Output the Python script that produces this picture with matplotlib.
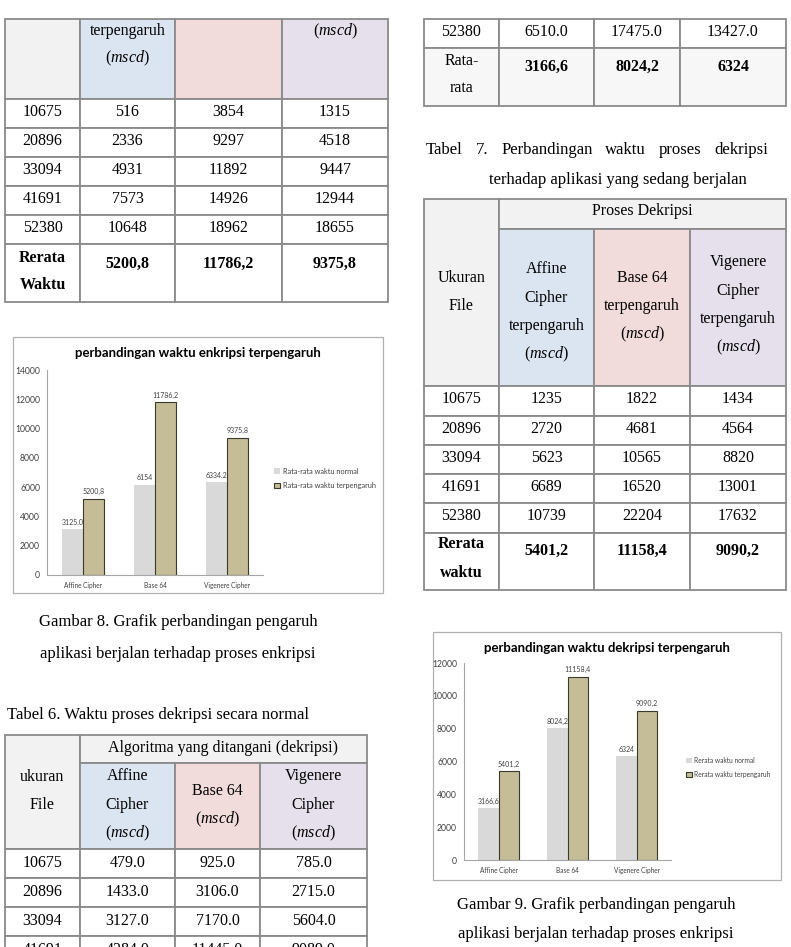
import matplotlib
matplotlib.use("Agg")
import matplotlib.pyplot as plt
from matplotlib.patches import Rectangle
import numpy as np

plt.rcParams['mathtext.fontset'] = 'custom'
plt.rcParams['mathtext.rm'] = 'Liberation Serif'
plt.rcParams['mathtext.it'] = 'Liberation Serif:italic'
plt.rcParams['mathtext.bf'] = 'Liberation Serif:bold'

# ---- data ----
file_sizes = ['10675', '20896', '33094', '41691', '52380']

# Tabel 5 (end): enkripsi terpengaruh
enc_affine_inf = ['516', '2336', '4931', '7573', '10648']
enc_base64_inf = ['3854', '9297', '11892', '14926', '18962']
enc_vig_inf = ['1315', '4518', '9447', '12944', '18655']
enc_mean_inf = ['5200,8', '11786,2', '9375,8']

# Tabel 6: dekripsi normal
dec_affine = ['479.0', '1433.0', '3127.0', '4284.0', '6510.0']
dec_base64 = ['925.0', '3106.0', '7170.0', '11445.0', '17475.0']
dec_vig = ['785.0', '2715.0', '5604.0', '9089.0', '13427.0']
dec_mean = ['3166,6', '8024,2', '6324']

# Tabel 7: dekripsi terpengaruh
dec_affine_inf = ['1235', '2720', '5623', '6689', '10739']
dec_base64_inf = ['1822', '4681', '10565', '16520', '22204']
dec_vig_inf = ['1434', '4564', '8820', '13001', '17632']
dec_mean_inf = ['5401,2', '11158,4', '9090,2']

# charts
algos = ['Affine Cipher', 'Base 64', 'Vigenere Cipher']
enc_normal = [3125.0, 6154.0, 6334.2]
enc_normal_lbl = ['3125.0', '6154', '6334.2']
enc_inf = [5200.8, 11786.2, 9375.8]
enc_inf_lbl = ['5200,8', '11786,2', '9375,8']
dec_normal = [3166.6, 8024.2, 6324.0]
dec_normal_lbl = ['3166,6', '8024,2', '6324']
dec_inf = [5401.2, 11158.4, 9090.2]
dec_inf_lbl = ['5401,2', '11158,4', '9090,2']

W, H = 791, 947
GRAY, BLUE, PINK, LAV = '#f2f2f2', '#dbe5f1', '#f2dcdb', '#e5e0ec'
BORDER = '#8a8a8a'
SERIF = 'Liberation Serif'
FS = 11.5

fig = plt.figure(figsize=(W / 100, H / 100), dpi=100)
base = fig.add_axes([0, 0, 1, 1])
base.set_xlim(0, W)
base.set_ylim(H, 0)
base.axis('off')


def cell(x0, y0, x1, y1, fc='white'):
    base.add_patch(Rectangle((x0, y0), x1 - x0, y1 - y0, fc=fc, ec=BORDER, lw=1.3, zorder=1))


def txt(x, y, s, bold=False, ha='center', size=FS):
    base.text(x, y, s, ha=ha, va='baseline', family=SERIF, size=size,
              weight='bold' if bold else 'normal', zorder=3)


def lines(x, baselines, strings):
    for b, s in zip(baselines, strings):
        txt(x, b, s)


def data_rows(cols, tops, rows, off=16.5):
    for i, row in enumerate(rows):
        for j, s in enumerate(row):
            x0, x1 = cols[j], cols[j + 1]
            cell(x0, tops[i], x1, tops[i + 1])
            txt((x0 + x1) / 2, tops[i] + off, s)


def mid(cols, j):
    return (cols[j] + cols[j + 1]) / 2


MSCD = r'($mscd$)'

# ---- Tabel 5 (end), top left ----
c = [5, 80, 175, 282, 388]
cell(c[0], 19, c[1], 99, GRAY)
cell(c[1], 19, c[2], 99, BLUE)
cell(c[2], 19, c[3], 99, PINK)
cell(c[3], 19, c[4], 99, LAV)
lines(mid(c, 1), [35, 62], ['terpengaruh', MSCD])
txt(mid(c, 3), 35, MSCD)
tops = [99, 128, 157, 186, 215, 244]
rows = list(zip(file_sizes, enc_affine_inf, enc_base64_inf, enc_vig_inf))
data_rows(c, tops, rows)
for j in range(4):
    cell(c[j], 244, c[j + 1], 302)
txt(mid(c, 0), 262, 'Rerata', bold=True)
txt(mid(c, 0), 289, 'Waktu', bold=True)
for j, s in enumerate(enc_mean_inf):
    txt(mid(c, j + 1), 268, s, bold=True)

# ---- Tabel 6 (end), top right ----
c = [424, 499, 594, 680, 786]
data_rows(c, [19, 48], [[file_sizes[4], dec_affine[4], dec_base64[4], dec_vig[4]]])
for j in range(4):
    cell(c[j], 48, c[j + 1], 106, '#f7f7f7')
txt(mid(c, 0), 65, 'Rata-')
txt(mid(c, 0), 92, 'rata')
for j, s in enumerate(dec_mean):
    txt(mid(c, j + 1), 71, s, bold=True)


# ---- captions ----
def justify(x0, x1, y, s, size=12):
    words = s.split()
    r = fig.canvas.get_renderer()
    objs = [base.text(0, y, w, family=SERIF, size=size, va='baseline') for w in words]
    inv = base.transData.inverted()
    widths = []
    for o in objs:
        bb = o.get_window_extent(renderer=r)
        p0 = inv.transform((bb.x0, 0))[0]
        p1 = inv.transform((bb.x1, 0))[0]
        widths.append(p1 - p0)
    gap = (x1 - x0 - sum(widths)) / (len(words) - 1)
    x = x0
    for o, w in zip(objs, widths):
        o.set_x(x)
        x += w + gap


justify(426, 768, 154, 'Tabel 7. Perbandingan waktu proses dekripsi')
txt(489, 184, 'terhadap aplikasi yang sedang berjalan', ha='left', size=12)

txt(178, 626, 'Gambar 8. Grafik perbandingan pengaruh', size=12)
txt(178, 658, 'aplikasi berjalan terhadap proses enkripsi', size=12)
txt(7, 719, 'Tabel 6. Waktu proses dekripsi secara normal', ha='left', size=12)
txt(596, 909, 'Gambar 9. Grafik perbandingan pengaruh', size=12)
txt(596, 938, 'aplikasi berjalan terhadap proses enkripsi', size=12)

# ---- Tabel 7, right ----
c = [424, 499, 594, 690, 786]
cell(c[0], 199, c[1], 386, GRAY)
cell(c[1], 199, c[4], 229, GRAY)
cell(c[1], 229, c[2], 386, BLUE)
cell(c[2], 229, c[3], 386, PINK)
cell(c[3], 229, c[4], 386, LAV)
txt((c[1] + c[4]) / 2, 215, 'Proses Dekripsi')
lines(mid(c, 0), [281.5, 310], ['Ukuran', 'File'])
lines(mid(c, 1), [273, 301.5, 330, 358.5], ['Affine', 'Cipher', 'terpengaruh', MSCD])
lines(mid(c, 2), [281.5, 310, 338.5], ['Base 64', 'terpengaruh', MSCD])
lines(mid(c, 3), [266, 294.5, 323, 351.5], ['Vigenere', 'Cipher', 'terpengaruh', MSCD])
tops = [386, 416, 445, 474, 503, 533]
rows = list(zip(file_sizes, dec_affine_inf, dec_base64_inf, dec_vig_inf))
data_rows(c, tops, rows, off=17)
for j in range(4):
    cell(c[j], 533, c[j + 1], 590)
txt(mid(c, 0), 548, 'Rerata', bold=True)
txt(mid(c, 0), 577, 'waktu', bold=True)
for j, s in enumerate(dec_mean_inf):
    txt(mid(c, j + 1), 555, s, bold=True)

# ---- Tabel 6, bottom left (continues past the page edge) ----
c = [5, 80, 175, 260, 367]
cell(c[0], 735, c[1], 849, GRAY)
cell(c[1], 735, c[4], 763, GRAY)
cell(c[1], 763, c[2], 849, BLUE)
cell(c[2], 763, c[3], 849, PINK)
cell(c[3], 763, c[4], 849, LAV)
txt((c[1] + c[4]) / 2, 752, 'Algoritma yang ditangani (dekripsi)')
lines(mid(c, 0), [781, 808.5], ['ukuran', 'File'])
lines(mid(c, 1), [780, 808.5, 837], ['Affine', 'Cipher', MSCD])
lines(mid(c, 2), [795, 823.5], ['Base 64', MSCD])
lines(mid(c, 3), [780, 808.5, 837], ['Vigenere', 'Cipher', MSCD])
tops = [849, 878, 907, 936, 965]
rows = list(zip(file_sizes, dec_affine, dec_base64, dec_vig))[:4]
data_rows(c, tops, rows, off=17.5)


# ---- charts ----
def chart(frame, plot, ymax, title, normal, inf, nlbl, ilbl, leg_labels, leg_xy, leg_fs):
    fx0, fy0, fx1, fy1 = frame
    base.add_patch(Rectangle((fx0, fy0), fx1 - fx0, fy1 - fy0, fc='white', ec='#b0b0b0', lw=0.9, zorder=1))
    px0, py0, px1, py1 = plot
    ax = fig.add_axes([px0 / W, 1 - py1 / H, (px1 - px0) / W, (py1 - py0) / H])
    ax.set_facecolor('none')
    x = np.arange(len(algos))
    bw = 0.29
    b1 = ax.bar(x - bw / 2, normal, bw, color='#d9d9d9', label=leg_labels[0])
    b2 = ax.bar(x + bw / 2, inf, bw, color='#c4bd97', edgecolor='#3a3a2a', linewidth=0.8,
                label=leg_labels[1])
    for bars, lbls in ((b1, nlbl), (b2, ilbl)):
        for b, s in zip(bars, lbls):
            ax.annotate(s, (b.get_x() + b.get_width() / 2, b.get_height()),
                        xytext=(0, 2.5), textcoords='offset points', ha='center', va='bottom',
                        family='Lato', size=5, color='#404040')
    ax.set_xlim(-0.5, len(algos) - 0.5)
    ax.set_ylim(0, ymax)
    ax.set_yticks(np.arange(0, ymax + 1, 2000))
    ax.set_xticks(x)
    ax.set_xticklabels(algos)
    for sp in ('top', 'right'):
        ax.spines[sp].set_visible(False)
    for sp in ('left', 'bottom'):
        ax.spines[sp].set_color('#a6a6a6')
        ax.spines[sp].set_linewidth(0.8)
    ax.tick_params(length=0, colors='#404040', pad=5)
    ax.tick_params(axis='x', labelsize=4.7)
    ax.tick_params(axis='y', labelsize=6.2)
    for t in ax.get_xticklabels() + ax.get_yticklabels():
        t.set_family('Lato')
    fig.text(((fx0 + fx1) / 2) / W, 1 - (fy0 + 16) / H, title, ha='center', va='center',
             family='Lato', weight='bold', size=9.5)
    ax.legend(loc='center left', bbox_to_anchor=(leg_xy[0] / W, 1 - leg_xy[1] / H),
              bbox_transform=fig.transFigure, frameon=False, prop={'family': 'Lato', 'size': leg_fs},
              handlelength=0.8, handleheight=0.8, handletextpad=0.4, labelspacing=1.0,
              borderpad=0, labelcolor='#404040')
    return ax


chart((13, 337, 383, 593), (47, 370, 263, 575), 14000, 'perbandingan waktu enkripsi terpengaruh',
      enc_normal, enc_inf, enc_normal_lbl, enc_inf_lbl,
      ['Rata-rata waktu normal', 'Rata-rata waktu terpengaruh'], (270, 478.5), 5.3)
chart((433, 632, 781, 880), (464, 663, 671, 860), 12000, 'perbandingan waktu dekripsi terpengaruh',
      dec_normal, dec_inf, dec_normal_lbl, dec_inf_lbl,
      ['Rerata waktu normal', 'Rerata waktu terpengaruh'], (683, 767.5), 4.8)

fig.savefig('out.png', dpi=100)
